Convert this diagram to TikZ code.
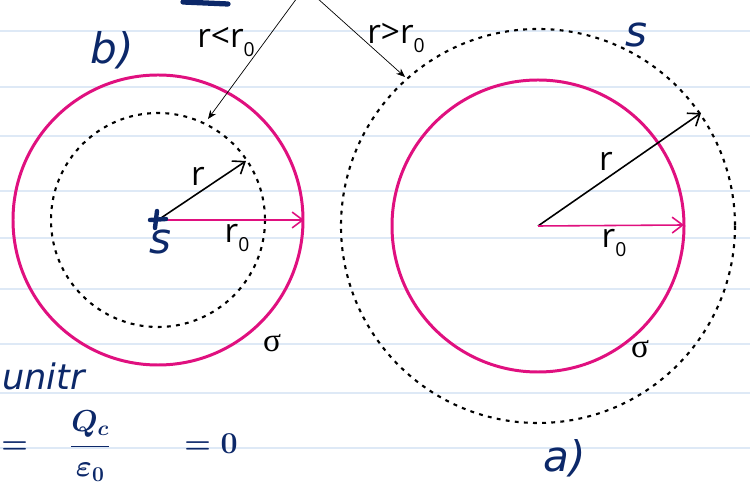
\documentclass[tikz,border=0pt]{standalone}
\usepackage{amsmath}
\usepackage{fontspec}
\setmainfont{Open Sans}
\newfontfamily\sigmafont{Liberation Serif}
\newfontfamily\handfont{DejaVu Sans}
\usetikzlibrary{positioning}
\usetikzlibrary{arrows.meta}
\definecolor{pen}{RGB}{224,16,127}
\definecolor{ink}{RGB}{12,40,105}
\definecolor{ruling}{RGB}{222,233,246}
\newcommand{\rnull}{r\raisebox{-0.45ex}{\fontsize{11}{11}\selectfont 0}}

\begin{document}
\begin{tikzpicture}[x=0.02cm, y=-0.02cm,
		label text/.style={inner sep=0pt, font=\fontsize{19}{22}\selectfont},
		sigma text/.style={inner sep=0pt, font=\sigmafont\fontsize{19}{22}\selectfont},
		hand text/.style={inner sep=0pt, text=ink, font=\handfont\itshape\fontsize{24}{26}\selectfont},
		radius arrow/.style={line width=0.9pt, -{Straight Barb[length=6pt, width=9pt]}},
		pointer/.style={line width=0.4pt, -{Stealth[length=5pt, width=4pt]}},
		sphere/.style={pen, line width=1.7pt},
		gauss/.style={black, line width=1.2pt, dash pattern=on 2.2pt off 3pt}]
				\useasboundingbox (0,0) rectangle (750,492);
				\clip (0,0) rectangle (750,492);
				\fill[white] (0,0) rectangle (750,492);
				\foreach \y in {31,87,136,191,238,289,344,393,448}
					\draw[ruling, line width=1pt] (0,\y) -- (750,\y);
				\coordinate (lc) at (158,220);
				\coordinate (rc) at (538,226);
				\node[shape=coordinate] (lr) at (246,161) {};
				\node[shape=coordinate] (lr0) at (304,220) {};
				\node[shape=coordinate] (rr) at (701,113) {};
				\node[shape=coordinate] (rr0) at (684,225) {};
				\coordinate (A) at (297,-2);
				\coordinate (B) at (317,-2);
				\node[shape=coordinate] (a) at (208,119) {};
				\node[shape=coordinate] (b) at (405,77) {};
				\draw[sphere] (lc) circle (145);
				\draw[gauss] (lc) circle (107);
				\draw[sphere] (rc) circle (146);
				\draw[gauss] (rc) circle (197);
				\draw[radius arrow, black] (lc) -- (lr);
				\draw[radius arrow, pen] (lc) -- (lr0);
				\draw[radius arrow, black] (rc) -- (rr);
				\draw[radius arrow, pen] (rc) -- (rr0);
				\draw[pointer] (A) -- (a);
				\draw[pointer] (B) -- (b);
				\node[label text] (inner) at (226,42) {r<\rnull};
				\node[label text] (outer) at (396,38) {r>\rnull};
				\node[label text] (lrl) at (198,176) {r};
				\node[label text] (lr0l) at (237,238) {\rnull};
				\node[label text] (rrl) at (606,161) {r};
				\node[label text] (rr0l) at (614,243) {\rnull};
				\node[sigma text] (lsigma) at (272,343) {σ};
				\node[sigma text] (rsigma) at (640,349) {σ};
				\draw[ink, line width=2.5pt, line cap=round] (150,220) -- (166,219);
				\draw[ink, line width=2.5pt, line cap=round] (157,211) -- (155,228);
				\draw[ink, line width=3pt, line cap=round] (183,2) -- (228,4);
				\node[hand text] (lb) at (112,50) {b)};
				\node[hand text] (ls) at (160,242) {s};
				\node[hand text] (rs) at (636,35) {s};
				\node[hand text] (ra) at (565,458) {a)};
				\node[hand text, anchor=west, font=\handfont\itshape\fontsize{20}{22}\selectfont] (unit) at (2,376) {unitr};
				\node[hand text, anchor=west, font=\fontsize{18}{20}\selectfont] (eq) at (1,446) {$\boldsymbol{=\quad\dfrac{Q_c}{\varepsilon_0}\qquad=0}$};
			\end{tikzpicture}
\end{document}
